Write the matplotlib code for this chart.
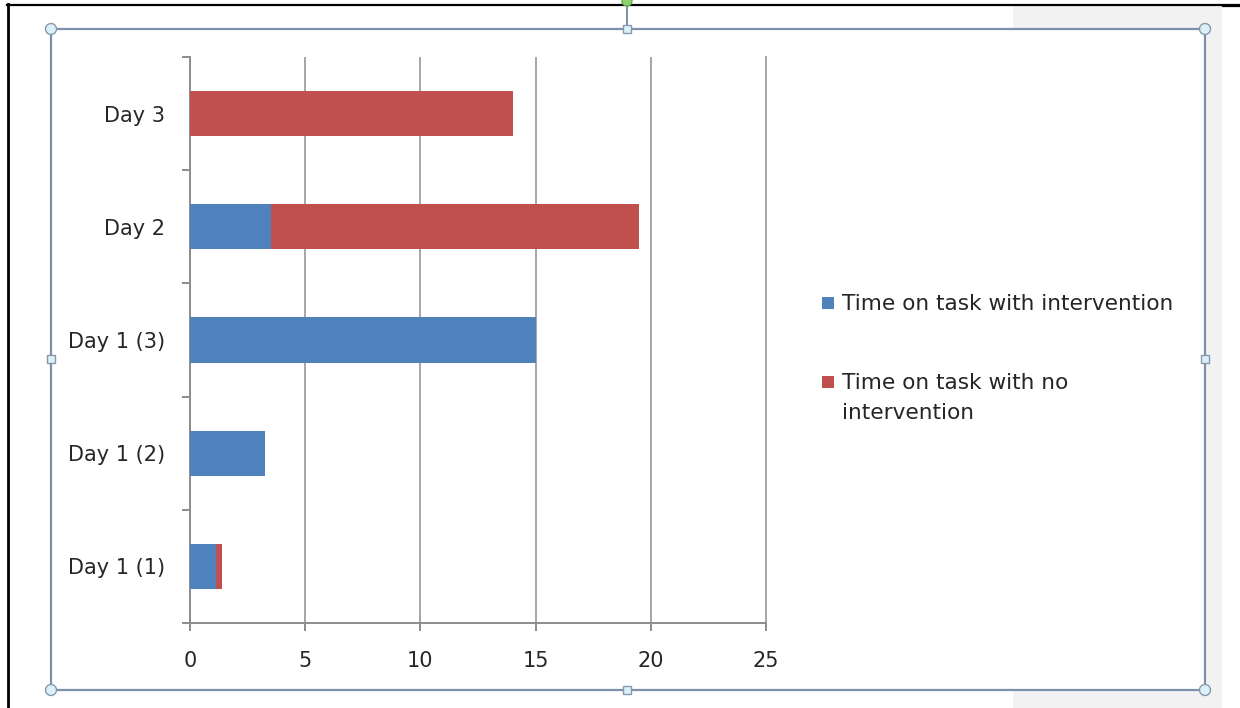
import matplotlib.pyplot as plt
from matplotlib.patches import Rectangle, Circle
from matplotlib.lines import Line2D
import numpy as np

categories = ['Day 1 (1)', 'Day 1 (2)', 'Day 1 (3)', 'Day 2', 'Day 3']
with_intervention = [1.15, 3.25, 15, 3.5, 0]
no_intervention = [0.25, 0, 0, 16, 14]
series_names = ['Time on task with intervention', 'Time on task with no\nintervention']
series_colors = ['#4f81bd', '#c0504d']
x_ticks = [0, 5, 10, 15, 20, 25]

W, H = 1240, 708
DPI = 100
plt.rcParams['font.family'] = ['DejaVu Sans']
fig = plt.figure(figsize=(W / DPI, H / DPI), dpi=DPI)
tr = fig.dpi_scale_trans  # inches, so circles stay round


def px(x, y):
    # screen pixel (from top-left) -> inches from bottom-left
    return x / DPI, (H - y) / DPI


def frect(x0, y0, x1, y1, **kw):
    r = Rectangle(px(x0, y1), (x1 - x0) / DPI, (y1 - y0) / DPI,
                  transform=tr, **kw)
    fig.add_artist(r)
    return r


def fline(xs, ys, **kw):
    pts = [px(a, b) for a, b in zip(xs, ys)]
    fig.add_artist(Line2D([p[0] for p in pts], [p[1] for p in pts],
                          transform=tr, **kw))


def fcircle(x, y, r, **kw):
    fig.add_artist(Circle(px(x, y), r / DPI, transform=tr, **kw))


# screenshot background: grey panel, black border
frect(1013, 5, 1222, 708, facecolor='#f2f2f2', edgecolor='none', zorder=-3)
fline([7, 1240], [4.5, 4.5], color='black', lw=1.6, zorder=-2)
fline([1223, 1240], [5.5, 5.5], color='black', lw=1.6, zorder=-2)
fline([7.5, 7.5], [4, 708], color='black', lw=2.0, zorder=-2)
frect(51, 29, 1205, 690, facecolor='white', edgecolor='none', zorder=-2)

# plot area: x axis 0..25 spans px 190..766, plot top at 57, axis at 623
ax = fig.add_axes([190 / W, 1 - 623 / H, (766 - 190) / W, (623 - 57) / H])
ax.set_zorder(1)
ax.set_facecolor('none')

y = np.arange(len(categories))
ax.barh(y, with_intervention, height=0.4, color=series_colors[0], zorder=3)
ax.barh(y, no_intervention, left=with_intervention, height=0.4,
        color=series_colors[1], zorder=3)

ax.set_xlim(0, 25)
ax.set_ylim(-0.5, len(categories) - 0.5)
ax.set_xticks(x_ticks)
ax.set_xticklabels([str(t) for t in x_ticks])
ax.set_yticks(y)
ax.set_yticklabels(categories)
ax.set_yticks(np.arange(-0.5, len(categories)), minor=True)

axis_grey = '#8c8c8c'
ax.grid(axis='x', color='#a6a6a6', lw=1.4, zorder=0)
ax.set_axisbelow(True)
ax.spines['top'].set_visible(False)
for s in ['left', 'bottom', 'right']:
    ax.spines[s].set_color(axis_grey)
    ax.spines[s].set_linewidth(1.4)
ax.spines['right'].set_color('#a6a6a6')

ax.tick_params(axis='x', which='major', direction='out', length=6, width=1.4,
               color=axis_grey, labelsize=15, labelcolor='#262626', pad=14)
ax.tick_params(axis='y', which='major', length=0, labelsize=15,
               labelcolor='#262626', pad=18)
ax.tick_params(axis='y', which='minor', direction='out', length=6, width=1.4,
               color=axis_grey)

# legend (drawn by hand so the marker sits on the first text line)
leg_rows = [303, 382]
for name, color, yy in zip(series_names, series_colors, leg_rows):
    frect(822, yy - 6, 834, yy + 6, facecolor=color, edgecolor='none', zorder=3)
    fig.text(842 / W, 1 - (yy - 9) / H, name, fontsize=15.6, color='#262626',
             va='top', ha='left', linespacing=1.65, zorder=3)

# selection frame with handles
frame_col = '#7d90aa'
frect(51, 29, 1205, 690, facecolor='none', edgecolor=frame_col, lw=1.6, zorder=4)
fline([627, 627], [3, 29], color=frame_col, lw=1.4, zorder=4)
fcircle(627, 1, 5, facecolor='#8fd16f', edgecolor='#6aa84f', lw=1, zorder=5)
for cx, cy in [(51, 29), (1205, 29), (51, 690), (1205, 690)]:
    fcircle(cx, cy, 5.5, facecolor='#dcf1f7', edgecolor='#8798ad', lw=1, zorder=5)
for cx, cy in [(627, 29), (627, 690), (51, 359), (1205, 359)]:
    frect(cx - 4, cy - 4, cx + 4, cy + 4, facecolor='#dcf1f7',
          edgecolor='#8798ad', lw=1, zorder=5)

fig.savefig('out.png', dpi=DPI)
